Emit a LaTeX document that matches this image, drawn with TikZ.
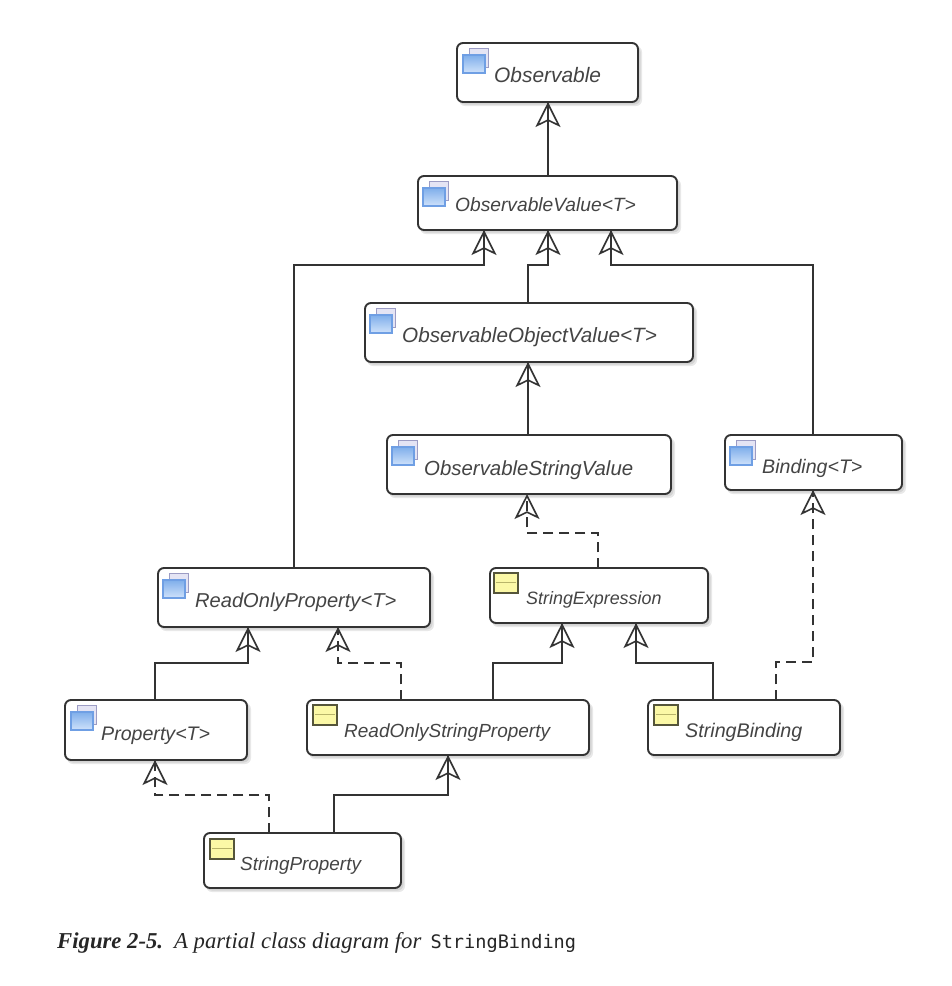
\documentclass[tikz,border=0pt]{standalone}
\usepackage{fontspec}
\setmainfont{Liberation Serif}
\setsansfont{Liberation Sans}
\setmonofont{DejaVu Sans Mono}
\usetikzlibrary{arrows.meta}
\definecolor{boxline}{HTML}{333333}
\definecolor{txt}{HTML}{444444}
\definecolor{conn}{HTML}{333333}
\definecolor{backedge}{HTML}{9C9CC4}
\definecolor{backfill}{HTML}{E4E4F4}
\definecolor{frontedge}{HTML}{6F9FE4}
\definecolor{fronttop}{HTML}{7FAEEA}
\definecolor{frontlow}{HTML}{CFE2FB}
\definecolor{yellowedge}{HTML}{55553A}
\definecolor{yellowfill}{HTML}{FBF8A6}
\definecolor{yellowbar}{HTML}{B8B46A}
\tikzset{
  classbox/.style={draw=boxline,fill=white,line width=1.9pt,rounded corners=6pt,inner sep=0pt,outer sep=0pt},
  boxshadow/.style={fill=black,opacity=0.09,rounded corners=6pt},
  classtext/.style={anchor=base west,inner sep=0pt,text=txt,font=\sffamily\itshape},
  wire/.style={draw=conn,line width=1.8pt},
  dashwire/.style={wire,dash pattern=on 10pt off 6pt},
  tiphead/.style={-{Stealth[open,length=25pt,width=25pt,inset=6pt,line width=1.6pt,sep=0pt]}},
  iconback/.style={draw=backedge,fill=backfill,line width=1pt},
  iconfront/.style={draw=frontedge,top color=fronttop,bottom color=frontlow,line width=1.2pt},
  iconyellow/.style={draw=yellowedge,fill=yellowfill,line width=1.3pt},
  iconbar/.style={draw=yellowbar,line width=0.9pt},
}
% name, x1, y1, x2, y2, text x, baseline y, font size, text
\newcommand{\classnode}[9]{%
  \pgfmathsetmacro{\boxcx}{(#2+#4)/2}\pgfmathsetmacro{\boxcy}{(#3+#5)/2}%
  \pgfmathsetmacro{\boxw}{#4-#2}\pgfmathsetmacro{\boxh}{#5-#3}%
  \fill[boxshadow] (#2+2,#3+3) rectangle (#4+4,#5+4);
  \fill[boxshadow] (#2+2,#3+3) rectangle (#4+2.5,#5+2.5);
  \node[classbox,minimum width=\boxw pt,minimum height=\boxh pt] (#1) at (\boxcx,\boxcy) {};
  \node[classtext] (#1-label) at (#6,#7) {\fontsize{#8}{#8}\selectfont #9};
}
\newcommand{\blueicon}[2]{%
  \draw[iconback] (#1+6,#2) rectangle (#1+25,#2+19);
  \draw[iconfront] (#1,#2+7) rectangle (#1+22,#2+25);
}
\newcommand{\yellowicon}[2]{%
  \draw[iconyellow] (#1,#2) rectangle (#1+24,#2+20);
  \draw[iconbar] (#1+2,#2+9) -- (#1+22,#2+9);
}
% style, source node, source x, middle y, target node, target x
\newcommand{\link}[6]{%
  \coordinate (sx) at (#3,0); \coordinate (tx) at (#6,0);
  \coordinate (bendA) at (#3,#4); \coordinate (bendB) at (#6,#4);
  \draw[#1] (#2.north -| sx) -- (bendA) -- (bendB) -- (#5.south -| tx);
  \draw[#1,tiphead] (#2.north -| sx) -- (bendA) -- (bendB) -- (#5.south -| tx);
}
\begin{document}
\begin{tikzpicture}[x=1pt,y=-1pt]
\useasboundingbox (0,0) rectangle (952,986);
\fill[white] (0,0) rectangle (952,986);

\classnode{obs}{457}{43}{638}{102}{494}{82}{20.9}{Observable}
\classnode{ov}{418}{176}{677}{230}{455}{211}{19.2}{ObservableValue<T>}
\classnode{oov}{365}{303}{693}{362}{402}{342}{20.7}{ObservableObjectValue<T>}
\classnode{osv}{387}{435}{671}{494}{424}{475}{20.4}{ObservableStringValue}
\classnode{bind}{725}{435}{902}{490}{762}{473}{19.6}{Binding<T>}
\classnode{rop}{158}{568}{430}{627}{195}{607}{20.1}{ReadOnlyProperty<T>}
\classnode{se}{490}{568}{708}{623}{526}{604}{17.9}{StringExpression}
\classnode{prop}{65}{700}{247}{760}{101}{740}{19.6}{Property<T>}
\classnode{rosp}{307}{700}{589}{755}{344}{737}{19}{ReadOnlyStringProperty}
\classnode{sb}{648}{700}{840}{755}{685}{737}{19.7}{StringBinding}
\classnode{sp}{204}{833}{401}{888}{240}{870}{18.9}{StringProperty}

\blueicon{463}{48}
\blueicon{423}{181}
\blueicon{370}{308}
\blueicon{392}{440}
\blueicon{730}{440}
\blueicon{163}{573}
\blueicon{71}{705}
\yellowicon{494}{573}
\yellowicon{313}{705}
\yellowicon{654}{705}
\yellowicon{210}{839}

\link{wire}{ov}{548}{140}{obs}{548}
\link{wire}{rop}{294}{265}{ov}{484}
\link{wire}{oov}{528}{265}{ov}{548}
\link{wire}{bind}{813}{265}{ov}{611}
\link{wire}{osv}{528}{400}{oov}{528}
\link{dashwire}{se}{598}{533}{osv}{527}
\link{dashwire}{sb}{776}{662}{bind}{813}
\link{wire}{rosp}{493}{663}{se}{562}
\link{wire}{sb}{713}{663}{se}{636}
\link{wire}{prop}{155}{663}{rop}{248}
\link{dashwire}{rosp}{401}{663}{rop}{338}
\link{dashwire}{sp}{269}{795}{prop}{155}
\link{wire}{sp}{334}{795}{rosp}{448}

\node[anchor=base west,inner sep=0pt,text=black!85] (caption) at (57,948)
  {\fontsize{22.7}{24}\selectfont\textbf{\textit{Figure 2-5.}}\hspace{11pt}\textit{A partial class diagram for }\hspace{3.5pt}\fontsize{18.6}{24}\selectfont\texttt{StringBinding}};
\end{tikzpicture}
\end{document}
